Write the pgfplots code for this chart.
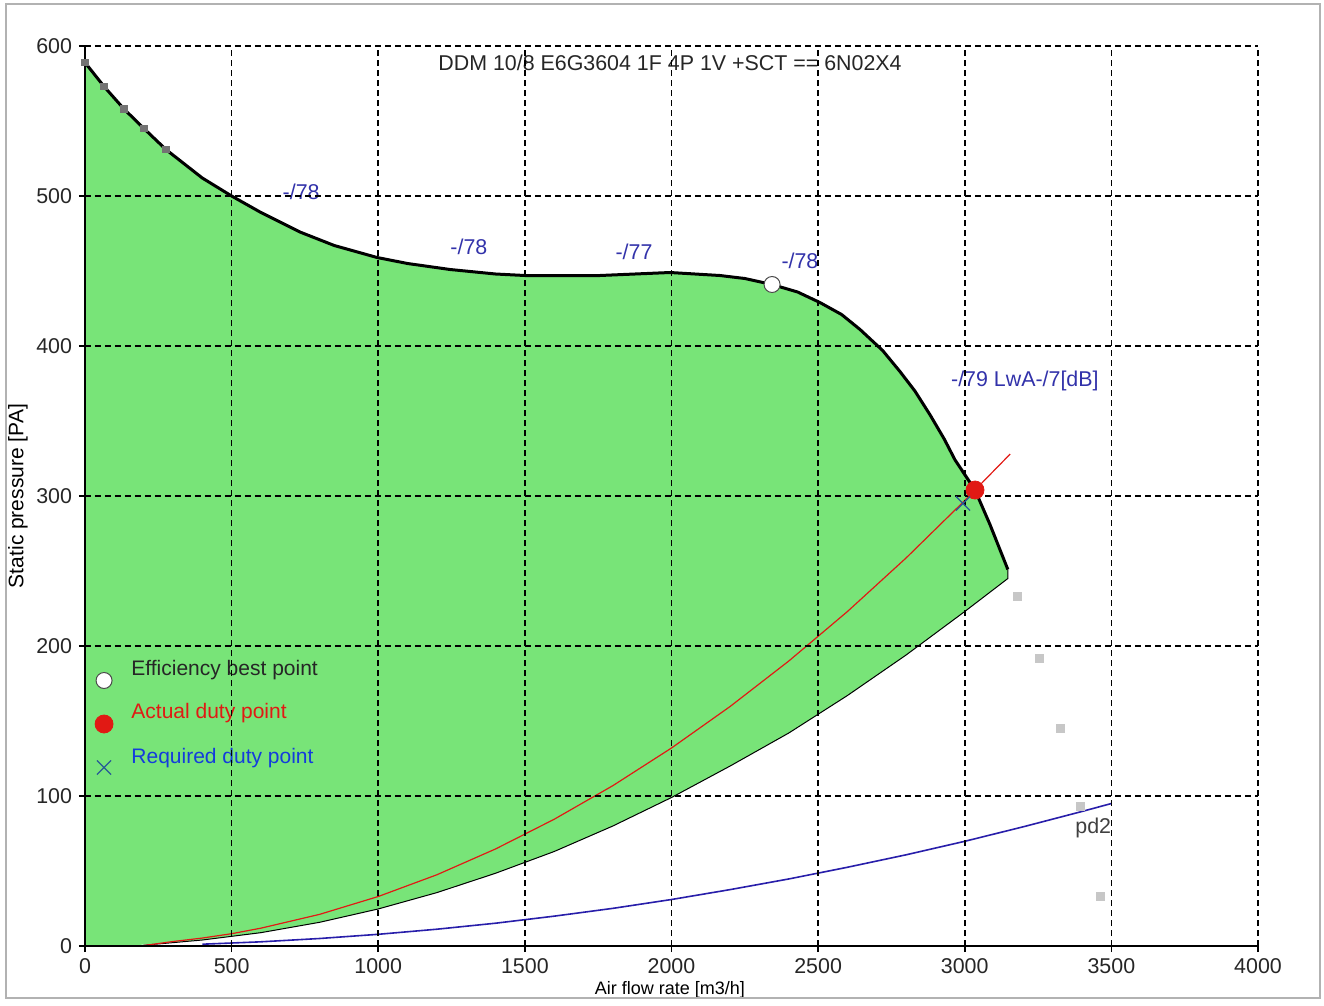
\documentclass[border=0pt]{standalone}
\usepackage{fontspec}
\setmainfont{Liberation Sans}
\usepackage{pgfplots}
\pgfplotsset{compat=1.18}

\definecolor{fangreen}{RGB}{120,228,120}
\definecolor{lblblue}{RGB}{50,50,170}
\definecolor{sysblue}{RGB}{40,30,170}
\definecolor{dutyred}{RGB}{225,25,20}
\definecolor{reqblue}{RGB}{40,90,150}
\definecolor{legblue}{RGB}{20,60,220}

\begin{document}
\begin{tikzpicture}
\begin{axis}[
  scale only axis, width=586.5bp, height=450bp,
  xmin=0, xmax=4000, ymin=0, ymax=600,
  xtick={0,500,...,4000}, ytick={0,100,...,600},
  axis x line*=bottom, axis y line*=left,
  axis line style={line width=0.8bp, black},
  tick align=outside, major tick length=3bp,
  tick style={line width=0.8bp, black},
  grid=major,
  major grid style={black, line width=0.8bp, dash pattern=on 3bp off 2bp},
  axis on top, clip=false, scaled ticks=false,
  /pgf/number format/assume math mode=true,
  /pgf/number format/1000 sep={},
  tick label style={font=\fontsize{10.7bp}{12bp}\selectfont, text=black!85},
  xlabel={Air flow rate [m3/h]},
  xlabel style={at={(rel axis cs:0.4987,0)}, anchor=center, yshift=-22bp,
    font=\fontsize{9bp}{10bp}\selectfont},
  ylabel={Static pressure [PA]},
  ylabel style={at={(rel axis cs:0,0.5)}, anchor=center, yshift=33.5bp,
    font=\fontsize{10.5bp}{12bp}\selectfont},
]
\coordinate (O) at (axis cs:0,0);

% working area of the fan
\addplot[draw=none, fill=fangreen] coordinates {
  (0,0) (0,589) (65,573) (133,558) (201,545) (276,531) (400,512) (500,500)
  (600,489) (733,476) (850,467) (996,459) (1100,455) (1245,451) (1400,448)
  (1500,447) (1756,447) (1995,449) (2165,447) (2250,445) (2343,441)
  (2430,436) (2506,429) (2580,421) (2643,411) (2720,397) (2779,383)
  (2830,370) (2882,354) (2930,338) (2967,324) (3035,304) (3086,281)
  (3147,251) (3147,245) (3000,223) (2800,194) (2600,167) (2400,142)
  (2200,120) (2000,99) (1800,80) (1600,63) (1400,48.5) (1200,35.6)
  (1000,24.7) (800,15.8) (600,8.9) (400,4) (200,1) (150,0)
};

% lower limit
\addplot[black, line width=0.5bp] coordinates {
  (3147,251) (3147,245) (3000,223) (2800,194) (2600,167) (2400,142)
  (2200,120) (2000,99) (1800,80) (1600,63) (1400,48.5) (1200,35.6)
  (1000,24.7) (800,15.8) (600,8.9) (400,4) (200,0.5)
};

% system curve pd2
\addplot[sysblue, line width=0.8bp] coordinates {
  (400,1.2) (600,2.8) (800,5) (1000,7.8) (1200,11.2) (1400,15.2)
  (1600,19.9) (1800,25.1) (2000,31) (2200,37.6) (2400,44.7) (2600,52.5)
  (2800,60.8) (3000,69.8) (3200,79.5) (3400,89.7) (3500,95)
};

% system curve through duty point
\addplot[dutyred, line width=0.6bp] coordinates {
  (190,0) (300,3) (400,5.3) (500,8.2) (600,11.9) (800,21.1) (1000,33)
  (1200,47.5) (1400,64.7) (1600,84.5) (1800,106.9) (2000,132)
  (2200,159.7) (2400,190) (2600,223) (2800,258.7) (3000,297) (3035,304)
  (3155,328)
};

% fan curve
\addplot[black, line width=1.5bp] coordinates {
  (0,589) (65,573) (133,558) (201,545) (276,531) (400,512) (500,500)
  (600,489) (733,476) (850,467) (996,459) (1100,455) (1245,451) (1400,448)
  (1500,447) (1756,447) (1995,449) (2165,447) (2250,445) (2343,441)
  (2430,436) (2506,429) (2580,421) (2643,411) (2720,397) (2779,383)
  (2830,370) (2882,354) (2930,338) (2967,324) (3035,304) (3086,281)
  (3147,251)
};

% measured points
\addplot[only marks, mark=square*, mark size=1.6bp, color=black!55]
  coordinates {
  (0,589) (65,573) (133,558) (201,545) (276,531)
};
\addplot[only marks, mark=square*, mark size=2bp, color=black!22]
  coordinates {
  (3181,233) (3256,192) (3325,145) (3393,93) (3461,33)
};

% special points
\addplot[only marks, mark=*, mark size=4bp,
  mark options={draw=black!70, fill=white, line width=0.5bp}] coordinates {
  (2343,441) (65,177)
};
\addplot[only marks, mark=*, mark size=4.5bp, color=dutyred] coordinates {
  (3035,304) (65,148)
};
\addplot[only marks, mark=x, mark size=5bp, color=reqblue,
  mark options={line width=0.6bp}] coordinates {
  (2994,295) (65,119)
};

% texts
\node[font=\fontsize{10.7bp}{12bp}\selectfont, text=black!85]
  at (axis cs:1995,589) {DDM 10/8 E6G3604 1F 4P 1V +SCT == 6N02X4};
\begin{scope}[every node/.style={font=\fontsize{10.7bp}{12bp}\selectfont, text=lblblue}]
\node at (axis cs:737,503) {-/78};
\node at (axis cs:1309,466) {-/78};
\node at (axis cs:1872,463) {-/77};
\node at (axis cs:2438,457) {-/78};
\node at (axis cs:3205,377) {-/79 LwA-/7[dB]};
\end{scope}
\node[anchor=west, inner sep=0pt, font=\fontsize{10.7bp}{12bp}\selectfont, text=black!75]
  at (axis cs:3376,79) {pd2};
\begin{scope}[every node/.style={anchor=west, inner sep=0pt,
    font=\fontsize{10.5bp}{12bp}\selectfont}]
\node[text=black!85] at (axis cs:157,184) {Efficiency best point};
\node[text=dutyred] at (axis cs:157,155) {Actual duty point};
\node[text=legblue] at (axis cs:157,125) {Required duty point};
\end{scope}
\end{axis}
\draw[black!30, line width=0.75bp] ([shift={(-39.5bp,-26bp)}]O)
  rectangle ([shift={(617.5bp,471bp)}]O);
\path ([shift={(-42.5bp,-27.5bp)}]O) rectangle ([shift={(619.5bp,473bp)}]O);
\end{tikzpicture}
\end{document}
